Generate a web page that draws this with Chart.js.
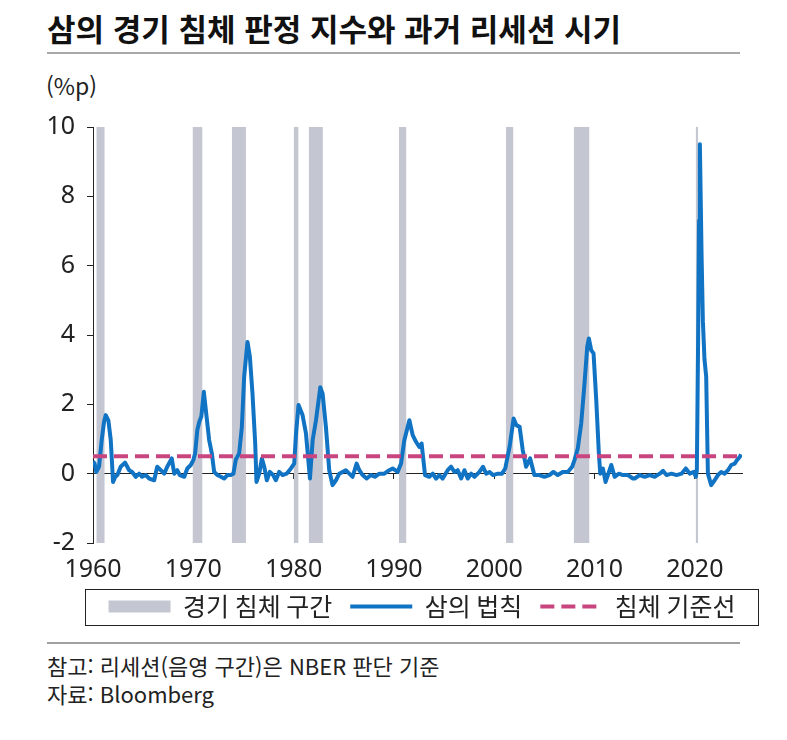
<!DOCTYPE html>
<html lang="ko">
<head>
<meta charset="utf-8">
<script src="https://cdn.jsdelivr.net/npm/chart.js@4.4.1/dist/chart.umd.min.js"></script>
<style>
    body { margin: 0; background: #fff; font-family: 'Noto Sans CJK KR', 'Noto Sans', sans-serif; color: #222; }
    #wrap { position: relative; width: 787px; height: 740px; overflow: hidden; }
    h1 { position: absolute; left: 47px; top: 9px; margin: 0; font-size: 31px; line-height: 38px; font-weight: 700; color: #111; }
    .rule { position: absolute; left: 47px; width: 693px; }
    #unit { position: absolute; left: 46px; top: 71px; font-size: 23px; line-height: 28px; }
    #box { position: absolute; left: 0; top: 100px; width: 787px; height: 540px; }
    .note { position: absolute; left: 47px; font-size: 22px; line-height: 28px; }
</style>
</head>
<body>
<div id="wrap">
    <h1>삼의 경기 침체 판정 지수와 과거 리세션 시기</h1>
    <div class="rule" style="top:52px;height:2px;background:#a8a8a8"></div>
    <div id="unit">(%p)</div>
    <div id="box"><canvas id="sahmChart"></canvas></div>
    <div class="rule" style="top:642px;height:2px;background:#a0a0a0"></div>
    <div class="note" style="top:651px">참고: 리세션(음영 구간)은 NBER 판단 기준</div>
    <div class="note" style="top:679px">자료: Bloomberg</div>
</div>

<script>
// 1. DATA
const seriesNames = ['경기 침체 구간', '삼의 법칙', '침체 기준선'];

// NBER recessions (decimal years)
const recessionStart = [1960.33, 1969.92, 1973.83, 1980.0, 1981.5, 1990.5, 2001.17, 2007.92, 2020.08];
const recessionEnd   = [1961.17, 1970.92, 1975.25, 1980.5, 1982.92, 1991.25, 2001.92, 2009.5, 2020.33];

// Sahm rule (%p)
const sahmYears = [
    1960.0, 1960.15, 1960.33, 1960.6, 1960.87, 1961.1, 1961.27, 1961.53, 1961.77, 1962.0,
    1962.2, 1962.43, 1962.76, 1963.19, 1963.6, 1963.9, 1964.26, 1964.6, 1964.9, 1965.26,
    1965.6, 1966.1, 1966.4, 1966.76, 1967.1, 1967.4, 1967.85, 1968.1, 1968.4, 1968.65,
    1969.1, 1969.4, 1969.75, 1970.0, 1970.18, 1970.4, 1970.6, 1970.8, 1971.05, 1971.25,
    1971.58, 1971.85, 1972.08, 1972.4, 1972.75, 1973.07, 1973.4, 1973.74, 1974.0, 1974.24,
    1974.57, 1974.84, 1975.07, 1975.4, 1975.64, 1975.9, 1976.17, 1976.3, 1976.57, 1976.84,
    1977.07, 1977.33, 1977.63, 1977.96, 1978.23, 1978.56, 1978.9, 1979.3, 1979.73, 1980.06,
    1980.25, 1980.49, 1980.89, 1981.23, 1981.63, 1981.9, 1982.23, 1982.66, 1982.89, 1983.22,
    1983.55, 1983.88, 1984.22, 1984.55, 1984.88, 1985.2, 1985.55, 1985.88, 1986.28, 1986.55,
    1986.88, 1987.28, 1987.71, 1988.1, 1988.54, 1989.04, 1989.54, 1989.87, 1990.37, 1990.71,
    1991.04, 1991.54, 1991.87, 1992.2, 1992.53, 1992.76, 1993.1, 1993.53, 1993.87, 1994.2,
    1994.53, 1994.86, 1995.36, 1995.7, 1996.03, 1996.36, 1996.7, 1997.03, 1997.36, 1997.7,
    1998.03, 1998.53, 1998.87, 1999.2, 1999.53, 1999.87, 2000.37, 2000.77, 2001.1, 2001.53,
    2001.93, 2002.2, 2002.53, 2002.84, 2003.18, 2003.58, 2004.0, 2004.5, 2005.0, 2005.5,
    2005.9, 2006.33, 2006.83, 2007.33, 2007.77, 2008.0, 2008.33, 2008.67, 2009.0, 2009.27,
    2009.43, 2009.67, 2009.9, 2010.17, 2010.43, 2010.57, 2010.83, 2011.1, 2011.33, 2011.67,
    2012.0, 2012.43, 2012.83, 2013.33, 2013.83, 2014.0, 2014.5, 2015.0, 2015.5, 2016.0,
    2016.5, 2016.83, 2017.17, 2017.67, 2018.17, 2018.67, 2019.1, 2019.5, 2019.9, 2020.1,
    2020.2, 2020.33, 2020.42, 2020.5, 2020.58, 2020.67, 2020.8, 2020.96, 2021.13, 2021.3,
    2021.63, 2021.97, 2022.3, 2022.63, 2022.97, 2023.3, 2023.63, 2023.97, 2024.2, 2024.47,
    2024.6
];
const sahmValues = [
    0.35, 0.3, 0.05, 0.2, 0.97, 1.5, 1.69, 1.54, 0.97, -0.24,
    -0.1, -0.04, 0.2, 0.32, 0.1, 0.05, -0.09, 0.0, -0.09, -0.04,
    -0.14, -0.19, 0.2, 0.1, 0.0, 0.2, 0.44, 0.0, 0.1, -0.04,
    -0.09, 0.15, 0.25, 0.39, 0.58, 1.26, 1.5, 1.65, 2.36, 1.83,
    0.97, 0.58, 0.05, -0.04, -0.09, -0.14, -0.04, -0.04, 0.0, 0.41,
    0.58, 1.35, 2.8, 3.8, 3.37, 2.31, 0.87, -0.24, 0.0, 0.44,
    0.2, -0.19, 0.05, -0.04, -0.19, 0.05, -0.04, 0.0, 0.15, 0.29,
    1.2, 1.98, 1.69, 1.16, -0.14, 0.97, 1.54, 2.49, 2.31, 1.35,
    0.1, -0.33, -0.19, 0.0, 0.05, 0.1, 0.0, -0.09, 0.29, 0.1,
    -0.04, -0.14, -0.04, -0.09, 0.0, 0.0, 0.1, 0.15, 0.05, 0.29,
    0.97, 1.54, 1.11, 0.92, 0.77, 0.87, -0.04, -0.09, 0.0, -0.14,
    -0.04, -0.14, 0.1, 0.2, 0.05, 0.1, -0.14, 0.1, -0.14, 0.0,
    -0.09, 0.05, 0.2, 0.0, 0.05, -0.04, 0.0, 0.0, 0.15, 0.77,
    1.59, 1.4, 1.35, 0.68, 0.2, 0.44, -0.04, -0.04, -0.09, -0.04,
    0.05, -0.04, 0.05, 0.05, 0.2, 0.39, 0.73, 1.45, 2.6, 3.66,
    3.9, 3.56, 3.47, 2.12, 0.58, 0.0, 0.15, -0.24, -0.04, 0.25,
    -0.09, 0.0, -0.04, -0.04, -0.14, -0.14, -0.04, -0.09, -0.04, -0.09,
    0.0, 0.08, -0.04, 0.0, -0.04, 0.0, 0.15, 0.0, 0.05, -0.09,
    0.1, 4.0, 7.3, 9.5, 8.0, 6.3, 4.4, 3.3, 2.8, 0.0,
    -0.33, -0.19, -0.04, 0.05, 0.0, 0.1, 0.25, 0.29, 0.39, 0.48,
    0.56
];

const thresholdValue = 0.5;
const xRange = [1960, 2024.7];
const xTickValues = [1960, 1970, 1980, 1990, 2000, 2010, 2020];
const yTickValues = [-2, 0, 2, 4, 6, 8, 10];

// 2. STYLE
const COLOR_BAND = '#c4c7d2';
const COLOR_SAHM = '#1173c3';
const COLOR_LIMIT = '#c9457f';
const TEXT = '#222';

Chart.defaults.font.family = "'Noto Sans', 'Noto Sans CJK KR', sans-serif";
Chart.defaults.color = TEXT;

// band rectangles as gap-separated line segments filled down to the axis minimum
const bandPoints = [];
recessionStart.forEach((s, i) => {
    bandPoints.push({ x: s, y: yTickValues[yTickValues.length - 1] });
    bandPoints.push({ x: recessionEnd[i], y: yTickValues[yTickValues.length - 1] });
    bandPoints.push({ x: recessionEnd[i], y: null });
});

const sahmPoints = sahmYears.map((x, i) => ({ x: x, y: sahmValues[i] }));
const limitPoints = xRange.map(x => ({ x: x, y: thresholdValue }));

// legend: nudge into place and draw a frame round it
const legendFrame = {
    id: 'legendFrame',
    afterLayout(chart) {
        const lg = chart.legend;
        lg.top -= 11; lg.bottom -= 11;
        lg.left += 51; lg.right += 51;
    },
    afterDraw(chart) {
        const boxes = chart.legend.legendHitBoxes;
        if (!boxes || !boxes.length) return;
        const first = boxes[0], last = boxes[boxes.length - 1];
        const cy = first.top + first.height / 2;
        const ctx = chart.ctx;
        ctx.save();
        ctx.strokeStyle = TEXT;
        ctx.lineWidth = 1;
        const x0 = Math.round(first.left - 24) + 0.5;
        const x1 = Math.round(last.left + last.width + 23) + 0.5;
        ctx.strokeRect(x0, Math.round(cy - 18) + 0.5, x1 - x0, 36);
        ctx.restore();
    }
};

const tickHook = values => scale => { scale.ticks = values.map(v => ({ value: v })); };

new Chart(document.getElementById('sahmChart'), {
    type: 'line',
    data: {
        datasets: [
            {
                label: seriesNames[0], data: bandPoints, order: 2,
                backgroundColor: COLOR_BAND, borderColor: COLOR_BAND, borderWidth: 0,
                fill: 'start', spanGaps: false, pointRadius: 0, pointStyle: 'rect'
            },
            {
                label: seriesNames[1], data: sahmPoints, order: 1,
                borderColor: COLOR_SAHM, backgroundColor: COLOR_SAHM, borderWidth: 4,
                borderJoinStyle: 'round', tension: 0, pointRadius: 0, pointStyle: 'line', fill: false
            },
            {
                label: seriesNames[2], data: limitPoints, order: 0,
                borderColor: COLOR_LIMIT, backgroundColor: COLOR_LIMIT, borderWidth: 4,
                borderDash: [14, 7], pointRadius: 0, pointStyle: 'line', fill: false
            }
        ]
    },
    options: {
        responsive: true,
        maintainAspectRatio: false,
        animation: false,
        layout: { padding: { top: 27, right: 45, left: 0, bottom: 0 } },
        scales: {
            x: {
                type: 'linear', min: xRange[0], max: xRange[1],
                afterBuildTicks: tickHook(xTickValues),
                afterFit: s => { s.height = 44; },
                grid: { display: false }, border: { display: false },
                ticks: { padding: 4, font: { size: 25 }, callback: v => String(v) }
            },
            x2: {
                type: 'linear', min: xRange[0], max: xRange[1], position: { y: 0 },
                afterBuildTicks: tickHook(xTickValues),
                grid: { drawOnChartArea: false, drawTicks: true, tickLength: 5, color: TEXT },
                border: { display: true, color: TEXT, width: 1 },
                ticks: { display: false }
            },
            y: {
                min: yTickValues[0], max: yTickValues[yTickValues.length - 1],
                afterBuildTicks: tickHook(yTickValues),
                afterFit: s => { s.width = 93; },
                grid: { drawOnChartArea: false, tickLength: 6, color: TEXT },
                border: { display: true, color: TEXT, width: 1 },
                ticks: { padding: 12, font: { size: 25 } }
            }
        },
        plugins: {
            tooltip: { enabled: false },
            legend: {
                position: 'bottom',
                labels: {
                    usePointStyle: true, pointStyleWidth: 62, boxHeight: 12,
                    padding: 18, font: { size: 25, family: "'Noto Sans CJK KR', sans-serif" },
                    sort: (a, b) => a.datasetIndex - b.datasetIndex,
                    generateLabels(chart) {
                        const items = Chart.defaults.plugins.legend.labels.generateLabels(chart);
                        items.forEach(it => {
                            const ds = chart.data.datasets[it.datasetIndex];
                            it.pointStyle = ds.pointStyle;
                            it.fillStyle = ds.backgroundColor;
                            it.strokeStyle = ds.borderColor;
                            it.lineWidth = ds.borderWidth;
                            it.lineDash = ds.borderDash || [];
                        });
                        return items;
                    }
                }
            }
        }
    },
    plugins: [legendFrame]
});
</script>
</body>
</html>
